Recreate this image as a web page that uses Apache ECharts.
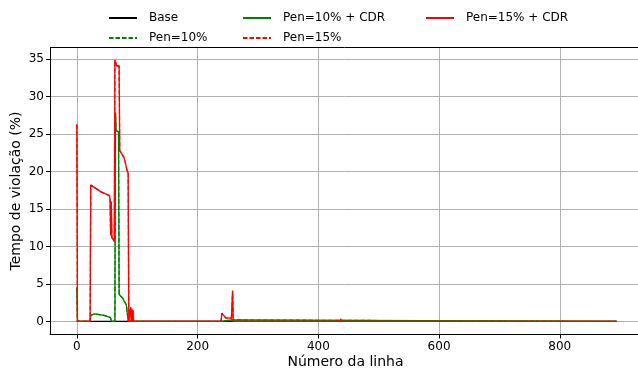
<!DOCTYPE html>
<html>
<head>
<meta charset="utf-8">
<script src="https://cdn.jsdelivr.net/npm/echarts@6/dist/echarts.min.js"></script>
<style>
  html, body { margin: 0; padding: 0; background: #fff; }
  #chart { width: 638px; height: 371px; }
</style>
</head>
<body>
<div id="chart"></div>
<script>
// número da linha / tempo de violação (%)
const baseX = [0, 894]
const baseY = [0, 0]

const pen10X = [0, 1, 22, 23, 25, 30, 45, 55, 57, 58, 63, 64, 65, 69, 70, 76, 82, 84, 85, 239, 240, 257, 258, 894]
const pen10Y = [4.5, 0, 0, 0.85, 0.9, 1.0, 0.8, 0.55, 0.5, 0, 0, 27.9, 25.5, 25.3, 3.6, 3.1, 2.2, 2.0, 0, 0, 0.2, 0.2, 0, 0]

const pen10CdrX = pen10X
const pen10CdrY = pen10Y

const pen15X = [0, 1, 22, 23, 27, 40, 54, 55, 56, 57, 58, 60, 62, 63, 65, 66, 70, 71, 78, 80, 83, 85, 86, 88, 89, 90, 91, 92, 93, 94,
  239, 240, 247, 256, 257, 258, 259, 436, 437, 438, 894]
const pen15Y = [26.3, 0, 0, 18.2, 18.0, 17.3, 16.8, 16.3, 11.5, 16.0, 11.2, 11.0, 10.7, 34.9, 34.9, 34.1, 34.1, 22.8, 21.9, 21.3, 20.2, 19.8, 0, 0, 1.9, 0, 1.7, 0, 1.5, 0,
  0, 1.1, 0.45, 0.45, 0.45, 4.1, 0, 0, 0.35, 0, 0]

const pen15CdrX = pen15X
const pen15CdrY = pen15Y

const xTicks = [0, 200, 400, 600, 800]
const yTicks = [0, 5, 10, 15, 20, 25, 30, 35]

function pairs(xs, ys) {
  return xs.map((x, i) => [x, ys[i]])
}

const font = 'DejaVu Sans'
const dash = [4.5, 2]

function makeSeries(name, xs, ys, color, dashed) {
  return {
    name: name,
    type: 'line',
    symbol: 'none',
    animation: false,
    lineStyle: { color: color, width: 1.3, type: dashed ? dash : 'solid' },
    itemStyle: { color: color },
    data: pairs(xs, ys)
  }
}

// legenda em 3 colunas, preenchida por coluna (como no matplotlib)
function legendAt(name, left, top) {
  return {
    data: [name],
    left: left,
    top: top,
    padding: 0,
    itemWidth: 28,
    itemHeight: 12,
    itemStyle: { opacity: 0 },
    textStyle: { fontFamily: font, fontSize: 12, color: '#000', padding: [0, 0, 0, 7] },
    selectedMode: false
  }
}

const chart = echarts.init(document.getElementById('chart'), null, { renderer: 'canvas' })

chart.setOption({
  backgroundColor: '#fff',
  animation: false,
  legend: [
    legendAt('Base', 108, 12),
    legendAt('Pen=10%', 108, 32),
    legendAt('Pen=10% + CDR', 242, 12),
    legendAt('Pen=15%', 242, 32),
    legendAt('Pen=15% + CDR', 425, 12)
  ],
  grid: {
    left: 50,
    top: 47.5,
    width: 591,
    height: 287,
    containLabel: false,
    outerBoundsMode: 'none',
    show: false
  },
  xAxis: {
    type: 'value',
    min: -44.5,
    max: 934.5,
    name: 'Número da linha',
    nameLocation: 'middle',
    nameGap: 21,
    nameMoveOverlap: false,
    nameTextStyle: { fontFamily: font, fontSize: 14, color: '#000' },
    axisLine: { show: true, onZero: false, lineStyle: { color: '#000', width: 1 } },
    axisTick: { show: true, inside: false, length: 4, lineStyle: { color: '#000' }, customValues: xTicks },
    axisLabel: { fontFamily: font, fontSize: 12, color: '#000', margin: 6, customValues: xTicks },
    splitLine: { show: true, lineStyle: { color: '#b0b0b0', width: 1 } }
  },
  yAxis: [{
    type: 'value',
    min: -1.74,
    max: 36.57,
    name: 'Tempo de violação (%)',
    nameLocation: 'middle',
    nameGap: 27,
    nameMoveOverlap: false,
    nameTextStyle: { fontFamily: font, fontSize: 14, color: '#000' },
    axisLine: { show: true, onZero: false, lineStyle: { color: '#000', width: 1 } },
    axisTick: { show: true, inside: false, length: 4, lineStyle: { color: '#000' }, customValues: yTicks },
    axisLabel: { fontFamily: font, fontSize: 12, color: '#000', margin: 6, customValues: yTicks },
    splitLine: { show: true, lineStyle: { color: '#b0b0b0', width: 1 } }
  }],
  series: [
    makeSeries('Base', baseX, baseY, '#000000', false),
    makeSeries('Pen=10%', pen10X, pen10Y, '#008000', true),
    makeSeries('Pen=10% + CDR', pen10CdrX, pen10CdrY, '#008000', false),
    makeSeries('Pen=15%', pen15X, pen15Y, '#ff0000', true),
    makeSeries('Pen=15% + CDR', pen15CdrX, pen15CdrY, '#ff0000', false)
  ],
  // borda superior do quadro
  graphic: [{
    type: 'line',
    shape: { x1: 50, y1: 47.5, x2: 641, y2: 47.5 },
    style: { stroke: '#000', lineWidth: 1 },
    z: 100
  }]
})
</script>
</body>
</html>
